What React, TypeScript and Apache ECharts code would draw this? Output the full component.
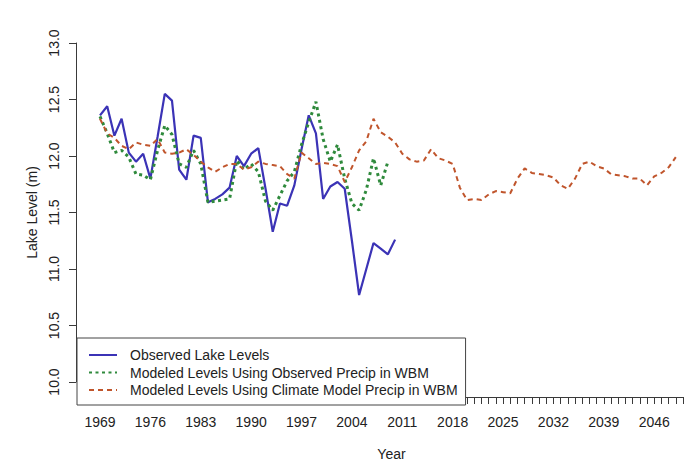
import React, { useEffect, useRef } from "react";
import * as echarts from "echarts";

// First year of every series; each value below is one year later than the previous one.
const START_YEAR = 1969;

// Observed lake levels (m), 1969–2010
const observedLevels = [
  12.36, 12.44, 12.18, 12.33, 12.03, 11.95, 12.02, 11.8, 12.17, 12.55,
  12.49, 11.88, 11.79, 12.18, 12.16, 11.59, 11.62, 11.66, 11.72, 12.0,
  11.91, 12.02, 12.07, 11.71, 11.33, 11.58, 11.56, 11.74, 12.06, 12.36,
  12.2, 11.62, 11.73, 11.77, 11.71, 11.25, 10.77, 11.0, 11.23, 11.18,
  11.13, 11.26,
];

// Water-balance model driven by observed precipitation (m), 1969–2009
const modeledObservedPrecip = [
  12.35, 12.2, 12.03, 12.05, 11.99, 11.84, 11.83, 11.79, 12.05, 12.27,
  12.19, 11.93, 11.9, 12.05, 11.93, 11.59, 11.6, 11.61, 11.62, 11.96,
  11.88, 11.93, 11.86, 11.6, 11.52, 11.65, 11.78, 11.86, 12.1, 12.3,
  12.48, 12.15, 11.95, 12.1, 11.8, 11.58, 11.52, 11.7, 11.98, 11.74,
  11.95,
];

// Water-balance model driven by climate-model precipitation (m), 1969–2049
const modeledClimatePrecip = [
  12.33, 12.2, 12.16, 12.09, 12.06, 12.12, 12.1, 12.09, 12.15, 12.03,
  12.02, 12.03, 12.06, 12.01, 11.95, 11.9, 11.86, 11.9, 11.93, 11.93,
  11.88, 11.9, 11.95, 11.93, 11.92, 11.91, 11.84, 11.8, 12.03, 11.98,
  11.93, 11.94, 11.93, 11.91, 11.77, 11.9, 12.05, 12.13, 12.33, 12.21,
  12.17, 12.12, 12.02, 11.97, 11.95, 11.96, 12.06, 11.98, 11.96, 11.93,
  11.72, 11.61, 11.62, 11.61, 11.66, 11.69, 11.68, 11.67, 11.8, 11.89,
  11.85, 11.84, 11.83, 11.81, 11.74, 11.71, 11.8, 11.93, 11.95, 11.91,
  11.89, 11.84, 11.83, 11.82, 11.8, 11.8, 11.74, 11.82, 11.85, 11.9,
  11.99,
];

const yearLabels = [1969, 1976, 1983, 1990, 1997, 2004, 2011, 2018, 2025, 2032, 2039, 2046];

const seriesNames = [
  "Observed Lake Levels",
  "Modeled Levels Using Observed Precip in WBM",
  "Modeled Levels Using Climate Model Precip in WBM",
];

const FONT = "'Liberation Sans', Arial, Helvetica, sans-serif";
const INK = "#222";
const AXIS = "#3a3a3a";

const toPairs = (values: number[]) => values.map((v, i) => [START_YEAR + i, v]);

export default function App() {
  const ref = useRef<HTMLDivElement>(null);

  useEffect(() => {
    if (!ref.current) return;
    const chart = echarts.init(ref.current, null, { renderer: "svg" });

    chart.setOption({
      animation: false,
      backgroundColor: "#ffffff",
      textStyle: { fontFamily: FONT },
      grid: { left: 100, top: 43, width: 593, height: 347 },
      legend: {
        orient: "vertical",
        left: 77,
        top: 338,
        itemWidth: 28,
        itemHeight: 14,
        itemGap: 3.5,
        padding: [10, 8, 8, 11],
        borderColor: "#444",
        borderWidth: 1,
        backgroundColor: "#ffffff",
        data: seriesNames,
        // line samples only, no marker on them
        itemStyle: { opacity: 0 },
        textStyle: { fontSize: 14, color: INK, fontFamily: FONT, padding: [0, 0, 0, 8] },
      },
      xAxis: {
        type: "value",
        min: 1969,
        max: 2050,
        interval: 1,
        offset: 15,
        axisLine: { show: true, lineStyle: { color: AXIS, width: 1 } },
        axisTick: { show: true, length: 7, lineStyle: { color: AXIS } },
        axisLabel: {
          fontSize: 14,
          color: INK,
          fontFamily: FONT,
          margin: 18,
          formatter: (v: number) => (yearLabels.includes(v) ? String(v) : ""),
        },
        splitLine: { show: false },
        name: "Year",
        nameLocation: "middle",
        nameGap: 50,
        nameTextStyle: { fontSize: 14, color: INK, fontFamily: FONT },
      },
      yAxis: {
        type: "value",
        min: 10,
        max: 13,
        interval: 0.5,
        offset: 24,
        axisLine: { show: true, lineStyle: { color: AXIS, width: 1 } },
        axisTick: { show: true, length: 7, lineStyle: { color: AXIS } },
        axisLabel: {
          fontSize: 14,
          color: INK,
          fontFamily: FONT,
          rotate: 90,
          margin: 15,
          formatter: (v: number) => v.toFixed(1),
        },
        splitLine: { show: false },
        name: "Lake Level (m)",
        nameLocation: "middle",
        nameGap: 36,
        nameTextStyle: { fontSize: 14, color: INK, fontFamily: FONT },
      },
      series: [
        {
          name: seriesNames[0],
          type: "line",
          symbol: "none",
          data: toPairs(observedLevels),
          lineStyle: { color: "#3b33b6", width: 2.2, type: "solid" },
          itemStyle: { color: "#3b33b6" },
        },
        {
          name: seriesNames[1],
          type: "line",
          symbol: "none",
          data: toPairs(modeledObservedPrecip),
          lineStyle: { color: "#2f8a3c", width: 3, type: [3, 3.5] },
          itemStyle: { color: "#2f8a3c" },
        },
        {
          name: seriesNames[2],
          type: "line",
          symbol: "none",
          data: toPairs(modeledClimatePrecip),
          lineStyle: { color: "#c0552c", width: 2, type: [5, 4] },
          itemStyle: { color: "#c0552c" },
        },
      ],
    });

    return () => chart.dispose();
  }, []);

  return (
    <div
      ref={ref}
      style={{ position: "fixed", left: 0, top: 0, width: 686, height: 466, background: "#fff" }}
    />
  );
}
